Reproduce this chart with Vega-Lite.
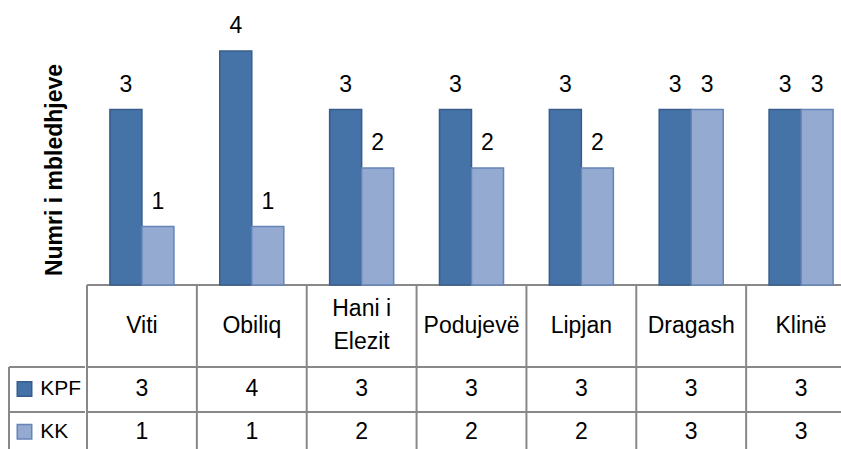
{
  "$schema": "https://vega.github.io/schema/vega-lite/v6.json",
  "padding": {"left": 8, "top": 0, "right": 0, "bottom": 0},
  "spacing": 0,
  "config": {
    "view": {"stroke": null},
    "font": "Liberation Sans",
    "text": {"font": "Liberation Sans", "fontSize": 23, "color": "#000000"}
  },
  "datasets": {
    "counts": [
      {"category": "Viti", "series": "KPF", "value": 3},
      {"category": "Viti", "series": "KK", "value": 1},
      {"category": "Obiliq", "series": "KPF", "value": 4},
      {"category": "Obiliq", "series": "KK", "value": 1},
      {"category": "Hani i Elezit", "series": "KPF", "value": 3},
      {"category": "Hani i Elezit", "series": "KK", "value": 2},
      {"category": "Podujevë", "series": "KPF", "value": 3},
      {"category": "Podujevë", "series": "KK", "value": 2},
      {"category": "Lipjan", "series": "KPF", "value": 3},
      {"category": "Lipjan", "series": "KK", "value": 2},
      {"category": "Dragash", "series": "KPF", "value": 3},
      {"category": "Dragash", "series": "KK", "value": 3},
      {"category": "Klinë", "series": "KPF", "value": 3},
      {"category": "Klinë", "series": "KK", "value": 3}
    ],
    "series": [{"series": "KPF"}, {"series": "KK"}],
    "titles": [{"label": "Numri i mbledhjeve"}],
    "one": [{"n": 1}]
  },
  "resolve": {"scale": {"x": "independent", "y": "independent"}},
  "hconcat": [
    {
      "width": 76,
      "height": 449,
      "layer": [
        {
          "data": {"name": "one"},
          "mark": {"type": "rule", "stroke": "#888888", "strokeWidth": 2},
          "encoding": {
            "x": {"datum": 0, "type": "quantitative", "scale": {"domain": [0, 1], "nice": false, "zero": false}, "axis": null},
            "y": {"datum": -1.402, "type": "quantitative", "scale": {"domain": [-2.803, 4.872], "nice": false, "zero": false}, "axis": null},
            "y2": {"datum": -2.803}
          }
        },
        {
          "data": {"name": "one"},
          "mark": {"type": "rule", "stroke": "#888888", "strokeWidth": 2},
          "encoding": {
            "x": {"datum": 0, "type": "quantitative"},
            "x2": {"datum": 1},
            "y": {"datum": -1.402, "type": "quantitative"}
          }
        },
        {
          "data": {"name": "one"},
          "mark": {"type": "rule", "stroke": "#888888", "strokeWidth": 2},
          "encoding": {
            "x": {"datum": 0, "type": "quantitative"},
            "x2": {"datum": 1},
            "y": {"datum": -2.171, "type": "quantitative"}
          }
        },
        {
          "data": {"name": "series"},
          "transform": [{"filter": "datum.series === 'KPF'"}],
          "mark": {"type": "point", "shape": "square", "size": 210, "filled": true, "opacity": 1, "strokeWidth": 1.5},
          "encoding": {
            "x": {"datum": 0.204, "type": "quantitative"},
            "y": {"datum": -1.778, "type": "quantitative"},
            "fill": {"field": "series", "type": "nominal", "scale": {"domain": ["KPF", "KK"], "range": ["#4572A7", "#94AAD1"]}, "legend": null},
            "stroke": {"field": "series", "type": "nominal", "scale": {"domain": ["KPF", "KK"], "range": ["#385D8A", "#6684B8"]}, "legend": null}
          }
        },
        {
          "data": {"name": "series"},
          "transform": [{"filter": "datum.series === 'KK'"}],
          "mark": {"type": "point", "shape": "square", "size": 210, "filled": true, "opacity": 1, "strokeWidth": 1.5},
          "encoding": {
            "x": {"datum": 0.204, "type": "quantitative"},
            "y": {"datum": -2.51, "type": "quantitative"},
            "fill": {"field": "series", "type": "nominal", "legend": null},
            "stroke": {"field": "series", "type": "nominal", "legend": null}
          }
        },
        {
          "data": {"name": "series"},
          "transform": [{"filter": "datum.series === 'KPF'"}],
          "mark": {"type": "text", "align": "left", "baseline": "middle", "fontSize": 21},
          "encoding": {
            "x": {"datum": 0.41, "type": "quantitative"},
            "y": {"datum": -1.778, "type": "quantitative"},
            "text": {"field": "series", "type": "nominal"}
          }
        },
        {
          "data": {"name": "series"},
          "transform": [{"filter": "datum.series === 'KK'"}],
          "mark": {"type": "text", "align": "left", "baseline": "middle", "fontSize": 21},
          "encoding": {
            "x": {"datum": 0.41, "type": "quantitative"},
            "y": {"datum": -2.51, "type": "quantitative"},
            "text": {"field": "series", "type": "nominal"}
          }
        },
        {
          "data": {"name": "titles"},
          "mark": {"type": "text", "angle": 270, "align": "center", "baseline": "middle", "fontWeight": "bold", "fontSize": 23},
          "encoding": {
            "x": {"datum": 0.6, "type": "quantitative"},
            "y": {"datum": 1.966, "type": "quantitative"},
            "text": {"field": "label", "type": "nominal"}
          }
        }
      ]
    },
    {
      "width": 755,
      "height": 449,
      "data": {"name": "counts"},
      "layer": [
        {
          "data": {"name": "one"},
          "mark": {"type": "rule", "stroke": "#888888", "strokeWidth": 2},
          "encoding": {
            "y": {"datum": 0, "type": "quantitative", "scale": {"domain": [-2.803, 4.872], "nice": false, "zero": false}, "axis": null}
          }
        },
        {
          "data": {"name": "one"},
          "mark": {"type": "rule", "stroke": "#888888", "strokeWidth": 2},
          "encoding": {"y": {"datum": -1.402, "type": "quantitative"}}
        },
        {
          "data": {"name": "one"},
          "mark": {"type": "rule", "stroke": "#888888", "strokeWidth": 2},
          "encoding": {"y": {"datum": -2.171, "type": "quantitative"}}
        },
        {
          "transform": [{"filter": "datum.series === 'KPF'"}],
          "mark": {"type": "rule", "stroke": "#888888", "strokeWidth": 2},
          "encoding": {
            "x": {"field": "category", "type": "nominal", "sort": null, "bandPosition": 0,
                  "scale": {"domain": ["Viti", "Obiliq", "Hani i Elezit", "Podujevë", "Lipjan", "Dragash", "Klinë"], "range": [0, 769], "paddingInner": 0, "paddingOuter": 0}, "axis": null},
            "y": {"datum": 0, "type": "quantitative"},
            "y2": {"datum": -2.803}
          }
        },
        {
          "mark": {"type": "bar", "strokeWidth": 1.5, "clip": true},
          "encoding": {
            "x": {"field": "category", "type": "nominal", "sort": null, "axis": null},
            "xOffset": {"field": "series", "type": "nominal", "sort": null, "scale": {"domain": ["KPF", "KK"], "paddingInner": 0, "paddingOuter": 0.716}},
            "y": {"field": "value", "type": "quantitative"},
            "y2": {"datum": 0},
            "fill": {"field": "series", "type": "nominal", "scale": {"domain": ["KPF", "KK"], "range": ["#4572A7", "#94AAD1"]}, "legend": null},
            "stroke": {"field": "series", "type": "nominal", "scale": {"domain": ["KPF", "KK"], "range": ["#385D8A", "#6684B8"]}, "legend": null}
          }
        },
        {
          "mark": {"type": "text", "baseline": "alphabetic", "align": "center", "dy": -18, "clip": true},
          "encoding": {
            "x": {"field": "category", "type": "nominal", "sort": null},
            "xOffset": {"field": "series", "type": "nominal", "sort": null},
            "y": {"field": "value", "type": "quantitative"},
            "text": {"field": "value", "type": "quantitative"}
          }
        },
        {
          "transform": [
            {"filter": "datum.series === 'KPF' && datum.category !== 'Hani i Elezit'"}
          ],
          "mark": {"type": "text", "baseline": "middle", "align": "center", "clip": true},
          "encoding": {
            "x": {"field": "category", "type": "nominal", "sort": null},
            "y": {"datum": -0.692, "type": "quantitative"},
            "text": {"field": "category", "type": "nominal"}
          }
        },
        {
          "transform": [
            {"filter": "datum.series === 'KPF' && datum.category === 'Hani i Elezit'"},
            {"calculate": "['Hani i', 'Elezit']", "as": "label"}
          ],
          "mark": {"type": "text", "baseline": "middle", "align": "center", "lineHeight": 33, "clip": true},
          "encoding": {
            "x": {"field": "category", "type": "nominal", "sort": null},
            "y": {"datum": -0.41, "type": "quantitative"},
            "text": {"field": "label", "type": "nominal"}
          }
        },
        {
          "transform": [{"filter": "datum.series === 'KPF'"}],
          "mark": {"type": "text", "baseline": "middle", "align": "center", "clip": true},
          "encoding": {
            "x": {"field": "category", "type": "nominal", "sort": null},
            "y": {"datum": -1.778, "type": "quantitative"},
            "text": {"field": "value", "type": "quantitative"}
          }
        },
        {
          "transform": [{"filter": "datum.series === 'KK'"}],
          "mark": {"type": "text", "baseline": "middle", "align": "center", "clip": true},
          "encoding": {
            "x": {"field": "category", "type": "nominal", "sort": null},
            "y": {"datum": -2.51, "type": "quantitative"},
            "text": {"field": "value", "type": "quantitative"}
          }
        }
      ]
    }
  ]
}
